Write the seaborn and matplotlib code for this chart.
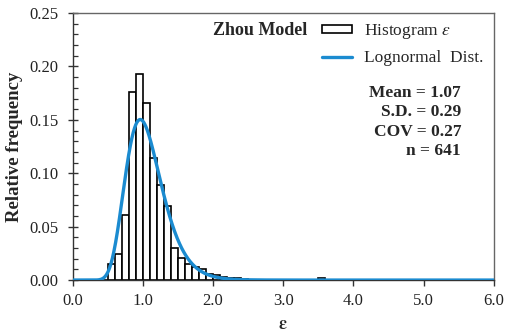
import numpy as np
import pandas as pd
import seaborn as sns
import matplotlib
matplotlib.use("Agg")
import matplotlib.pyplot as plt
from matplotlib.ticker import MultipleLocator
from matplotlib.patches import Patch
from matplotlib.lines import Line2D

# ---- data ----
bin_left = [0.5, 0.6, 0.7, 0.8, 0.9, 1.0, 1.1, 1.2, 1.3, 1.4, 1.5, 1.6, 1.7,
            1.8, 1.9, 2.0, 2.1, 2.2, 2.3, 2.4, 3.5]
rel_freq = [0.015, 0.024, 0.061, 0.176, 0.193, 0.166, 0.114, 0.089, 0.069,
            0.030, 0.021, 0.015, 0.012, 0.010, 0.006, 0.005, 0.003, 0.002,
            0.002, 0.001, 0.002]
bin_width = 0.1
stat_mean = 1.07
stat_sd = 0.29
stat_cov = 0.27
stat_n = 641
x_ticks = [0.0, 1.0, 2.0, 3.0, 4.0, 5.0, 6.0]
y_ticks = [0.00, 0.05, 0.10, 0.15, 0.20, 0.25]

sns.set_theme(style="ticks")
plt.rcParams["font.family"] = ["Liberation Serif", "DejaVu Serif"]
plt.rcParams["mathtext.fontset"] = "stix"

fig, ax = plt.subplots(figsize=(5.06, 3.35), dpi=100)
fig.subplots_adjust(left=0.1437, right=0.976, top=0.961, bottom=0.164)

df = pd.DataFrame({"x": np.array(bin_left) + bin_width / 2, "w": rel_freq})
sns.histplot(data=df, x="x", weights="w", binwidth=bin_width,
             binrange=(0.0, 6.0), stat="count", color="white",
             edgecolor="black", linewidth=1.2, alpha=1, ax=ax, zorder=2)

# lognormal fitted with the stated mean and SD, scaled to bin width
s2 = np.log(1 + (stat_sd / stat_mean) ** 2)
mu = np.log(stat_mean) - s2 / 2
xs = np.linspace(0.001, 6.0, 1200)
pdf = np.exp(-(np.log(xs) - mu) ** 2 / (2 * s2)) / (xs * np.sqrt(2 * np.pi * s2))
sns.lineplot(x=xs, y=pdf * bin_width, color="#1b8bd0", linewidth=2.4, ax=ax,
             zorder=3)

ax.set_xlim(0, 6)
ax.set_ylim(0, 0.25)
ax.set_xticks(x_ticks)
ax.set_xticklabels([f"{v:.1f}" for v in x_ticks])
ax.set_yticks(y_ticks)
ax.set_yticklabels([f"{v:.2f}" for v in y_ticks])
ax.yaxis.set_minor_locator(MultipleLocator(0.01))
ax.tick_params(axis="x", which="major", direction="out", length=4, width=1,
               labelsize=12, pad=5, color="#333333", labelcolor="#222222")
ax.tick_params(axis="y", which="major", direction="inout", length=7, width=1,
               labelsize=12, pad=6.5, color="#333333", labelcolor="#222222")
ax.tick_params(axis="y", which="minor", direction="in", length=3.5, width=0.9,
               color="#333333")
for sp in ax.spines.values():
    sp.set_visible(True)
    sp.set_color("#666666")
    sp.set_linewidth(1.0)
ax.spines["left"].set_color("#333333")
ax.spines["bottom"].set_color("#333333")

ax.set_xlabel(r"$\boldsymbol{\varepsilon}$", fontsize=13, labelpad=5)
ax.set_ylabel("Relative frequency", fontsize=13.5, fontweight="bold",
              labelpad=5)

handles = [Patch(facecolor="white", edgecolor="black", linewidth=1.2),
           Line2D([0], [0], color="#1b8bd0", linewidth=2.4)]
labels = [r"Histogram $\varepsilon$", "Lognormal  Dist."]
leg = ax.legend(handles, labels, loc="upper left",
                bbox_to_anchor=(0.592, 0.965), frameon=False, fontsize=12.5,
                handlelength=1.75, handleheight=0.38, handletextpad=0.69,
                labelspacing=0.5, borderpad=0, borderaxespad=0)
ax.text(0.556, 0.935, "Zhou Model", transform=ax.transAxes, fontsize=13,
        fontweight="bold", ha="right", va="center")

stats = [f"Mean = {stat_mean:.2f}", f"S.D. = {stat_sd:.2f}",
         f"COV = {stat_cov:.2f}", f"n = {stat_n}"]
for i, t in enumerate(stats):
    ax.text(0.922, 0.700 - i * 0.0723, t, transform=ax.transAxes,
            fontsize=12.5, fontweight="bold", ha="right", va="center")

fig.savefig("out.png", dpi=100)
